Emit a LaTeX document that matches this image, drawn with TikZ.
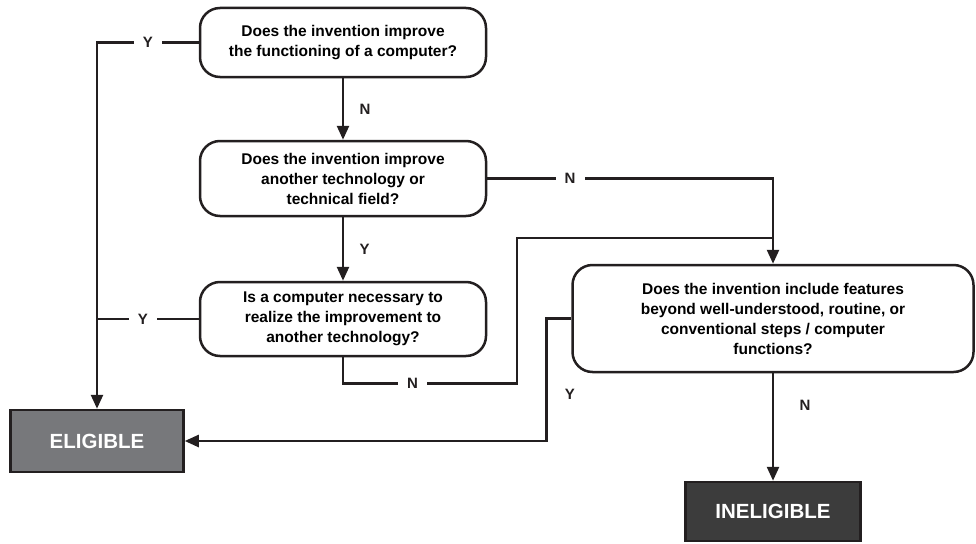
\documentclass[tikz,border=0pt]{standalone}
\usepackage{fontspec}
\setmainfont{Liberation Sans}
\usetikzlibrary{arrows.meta,positioning,calc}
\definecolor{ink}{HTML}{231F20}
\definecolor{midgray}{HTML}{77787B}
\definecolor{darkgray}{HTML}{3C3C3C}
\begin{document}
\begin{tikzpicture}[
  x=1pt,y=-1pt,
  question/.style={draw=ink,line width=2.5pt,rounded corners=20pt,fill=white,align=center,font=\bfseries\fontsize{15.5}{20}\selectfont,inner sep=2pt},
  outcome/.style={draw=ink,line width=2.5pt,align=center,text=white,font=\bfseries\fontsize{20.5}{24}\selectfont,minimum height=62pt},
  link/.style={line width=2.5pt,draw=ink},
  arrow/.style={link,-{Triangle[length=14pt,width=12pt]}},
  tag/.style={font=\bfseries\fontsize{15}{17}\selectfont,text=ink},
  gap/.style={tag,fill=white,inner xsep=9pt}
]
\useasboundingbox (0,0) rectangle (976,543);
\node[question,minimum width=286pt,minimum height=69pt] (improvecomp) at (343,42.5) {Does the invention improve\\the functioning of a computer?};
\node[question,minimum width=286pt,minimum height=75pt] (improvetech) at (343,178.5) {Does the invention improve\\another technology or\\technical field?};
\node[question,minimum width=286pt,minimum height=74pt] (necessary) at (343,319) {Is a computer necessary to\\realize the improvement to\\another technology?};
\node[question,minimum width=401pt,minimum height=107pt] (beyond) at (773,318.5) {Does the invention include features\\beyond well-understood, routine, or\\conventional steps / computer\\functions?};
\node[outcome,fill=midgray,minimum width=173pt] (eligible) at (97,441) {ELIGIBLE};
\node[outcome,fill=darkgray,minimum width=175pt,minimum height=59pt] (ineligible) at (773,511.5) {INELIGIBLE};
\coordinate (trunk) at (97,42.5);
\coordinate (nbend) at (517,238);
\draw[arrow] (improvecomp.west) -- node[gap,pos=0.5]{Y} (trunk) -- (eligible.north);
\draw[arrow] (improvecomp.south) -- node[tag,right=12pt]{N} (improvetech.north);
\draw[arrow] (improvetech.south) -- node[tag,right=12pt]{Y} (necessary.north);
\draw[link] (necessary.west) -- node[gap,pos=0.55]{Y} (necessary.west -| trunk);
\draw[arrow] (improvetech.east) -- node[gap,pos=0.29]{N} (improvetech.east -| beyond.north) -- (beyond.north);
\draw[link] (necessary.south) -- ++(0,26) -- node[gap,pos=0.4]{N} ++(174,0) |- (nbend -| beyond.north);
\draw[arrow] (beyond.west) -- ++(-25,0) |- node[tag,pos=0.31,right=14pt]{Y} (eligible.east);
\draw[arrow] (beyond.south) -- node[tag,pos=0.3,right=22pt]{N} (ineligible.north);
\end{tikzpicture}
\end{document}
